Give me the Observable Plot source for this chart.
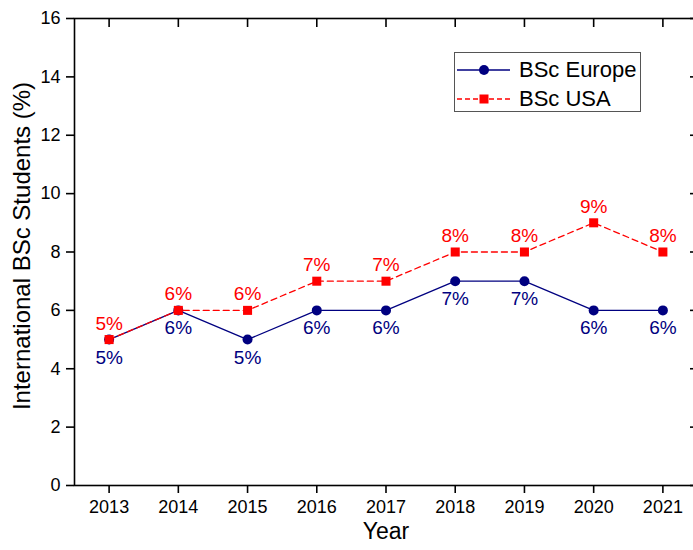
<!DOCTYPE html>
<html>
<head>
<meta charset="utf-8">
<script src="https://cdn.jsdelivr.net/npm/d3@7"></script>
<script src="https://cdn.jsdelivr.net/npm/@observablehq/plot@0.6"></script>
<style>
  html, body { margin: 0; padding: 0; background: #fff; }
  #wrap { position: relative; width: 693px; height: 550px; overflow: hidden; font-family: "Liberation Sans", Arial, sans-serif; }
  #legend { position: absolute; left: 454px; top: 52px; width: 187px; height: 60px; border: 1px solid #555; background: #fff; box-sizing: border-box; }
  .row { position: absolute; left: 0; height: 29px; display: flex; align-items: center; }
  .row span { font-size: 22px; color: #000; margin-left: 6px; }
</style>
</head>
<body>
<div id="wrap">
  <div id="chart"></div>
  <div id="legend">
    <div class="row" style="top:2px;">
      <svg width="56" height="20" style="margin-left:2px"><line x1="0" y1="10" x2="53" y2="10" stroke="#000080" stroke-width="1.3"/><circle cx="27" cy="10" r="5" fill="#000080"/></svg>
      <span>BSc Europe</span>
    </div>
    <div class="row" style="top:31px;">
      <svg width="56" height="20" style="margin-left:2px"><line x1="0" y1="10" x2="53" y2="10" stroke="#ff0000" stroke-width="1.3" stroke-dasharray="5,3"/><rect x="22.5" y="5.5" width="9" height="9" fill="#ff0000"/></svg>
      <span>BSc USA</span>
    </div>
  </div>
</div>
<script>
const years = [2013, 2014, 2015, 2016, 2017, 2018, 2019, 2020, 2021];
const europe = [5, 6, 5, 6, 6, 7, 7, 6, 6];
const usa = [5, 6, 6, 7, 7, 8, 8, 9, 8];
const yTicks = [0, 2, 4, 6, 8, 10, 12, 14, 16];
const xLabel = "Year";
const yLabel = "International BSc Students (%)";

const eu = years.map((y, i) => ({year: y, v: europe[i]}));
const us = years.map((y, i) => ({year: y, v: usa[i]}));

const navy = "#000080", red = "#ff0000";
const font = "Liberation Sans, Arial, sans-serif";

const chart = Plot.plot({
  width: 693,
  height: 550,
  marginLeft: 74,
  marginRight: -4,
  marginTop: 18,
  marginBottom: 65,
  style: {fontFamily: font, fontSize: "18px", color: "#000", background: "#fff"},
  x: {domain: [2012.5, 2021.5]},
  y: {domain: [0, 16]},
  marks: [
    Plot.axisX({ticks: years, tickFormat: d => String(d), tickSize: 8, tickPadding: 7, strokeWidth: 1.6, fontSize: 18, label: null}),
    Plot.axisX({anchor: "top", ticks: years, tickSize: -8, text: null, strokeWidth: 1.6, label: null}),
    Plot.axisY({ticks: yTicks, tickSize: 8, tickPadding: 6, strokeWidth: 1.6, fontSize: 18, label: null}),
    Plot.axisY({anchor: "right", ticks: yTicks, tickSize: -8, text: null, strokeWidth: 1.6, label: null}),
    Plot.frame({stroke: "#000", strokeWidth: 1.6}),
    Plot.text([yLabel], {frameAnchor: "left", textAnchor: "middle", rotate: -90, dx: -52, dy: -6, fontSize: 24, fill: "#000"}),
    Plot.text([xLabel], {frameAnchor: "bottom", textAnchor: "middle", dy: 53, fontSize: 23, fill: "#000"}),
    Plot.line(eu, {x: "year", y: "v", stroke: navy, strokeWidth: 1.3}),
    Plot.dot(eu, {x: "year", y: "v", r: 5, fill: navy, symbol: "circle"}),
    Plot.line(us, {x: "year", y: "v", stroke: red, strokeWidth: 1.3, strokeDasharray: "6,4"}),
    Plot.dot(us, {x: "year", y: "v", r: 5.1, fill: red, symbol: "square"}),
    Plot.text(us, {x: "year", y: "v", text: d => d.v + "%", dy: -16, fill: red, fontSize: 19}),
    Plot.text(eu, {x: "year", y: "v", text: d => d.v + "%", dy: 18, fill: navy, fontSize: 19})
  ]
});
document.getElementById("chart").appendChild(chart);
</script>
</body>
</html>
